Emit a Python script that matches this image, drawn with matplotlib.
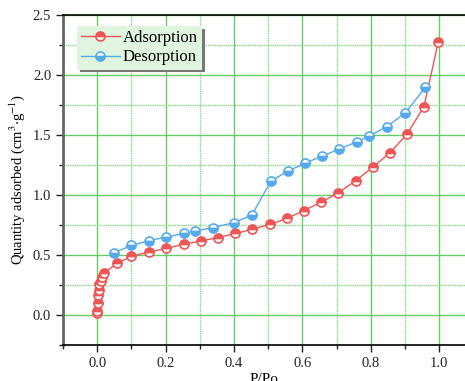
import matplotlib
matplotlib.use("Agg")
from matplotlib import pyplot as plt
from matplotlib.ticker import MultipleLocator, FormatStrFormatter

plt.rcParams["font.family"] = ["Liberation Serif", "DejaVu Serif"]
plt.rcParams["mathtext.fontset"] = "stix"

# adsorption branch
ads_x = [0.0, 0.0, 0.001, 0.002, 0.004, 0.006, 0.010, 0.015, 0.02, 0.058, 0.10,
         0.152, 0.202, 0.253, 0.303, 0.354, 0.403, 0.453, 0.504, 0.555, 0.603,
         0.655, 0.705, 0.756, 0.806, 0.856, 0.905, 0.955, 0.997]
ads_y = [0.02, 0.03, 0.10, 0.17, 0.21, 0.256, 0.286, 0.32, 0.35, 0.43, 0.49,
         0.525, 0.555, 0.59, 0.617, 0.645, 0.68, 0.713, 0.755, 0.805, 0.87,
         0.94, 1.02, 1.12, 1.233, 1.353, 1.505, 1.736, 2.278]

# desorption branch
des_x = [0.959, 0.901, 0.847, 0.794, 0.759, 0.708, 0.658, 0.607, 0.558, 0.508,
         0.452, 0.40, 0.338, 0.287, 0.253, 0.202, 0.152, 0.10, 0.05]
des_y = [1.897, 1.686, 1.57, 1.49, 1.444, 1.383, 1.325, 1.264, 1.20, 1.117,
         0.833, 0.77, 0.728, 0.70, 0.68, 0.65, 0.62, 0.58, 0.52]

red = "#ee5555"
blue = "#55aaee"

fig = plt.figure(figsize=(4.65, 3.81), dpi=100)
ax = fig.add_axes([63 / 465, 1 - 345 / 381, 402 / 465, 330 / 381])

ax.plot(ads_x, ads_y, color=red, lw=1, marker="o", ms=6.5, mew=1.2,
        mec=red, mfc=red, fillstyle="top", markerfacecoloralt="white",
        label="Adsorption", zorder=3)
ax.plot(des_x, des_y, color=blue, lw=1, marker="o", ms=6.5, mew=1.2,
        mec=blue, mfc=blue, fillstyle="bottom", markerfacecoloralt="white",
        label="Desorption", zorder=3)

ax.set_xlim(-0.1, 1.075)
ax.set_ylim(-0.25, 2.5)
ax.xaxis.set_major_locator(MultipleLocator(0.2))
ax.xaxis.set_minor_locator(MultipleLocator(0.1))
ax.yaxis.set_major_locator(MultipleLocator(0.5))
ax.yaxis.set_minor_locator(MultipleLocator(0.25))
ax.xaxis.set_major_formatter(FormatStrFormatter("%.1f"))
ax.yaxis.set_major_formatter(FormatStrFormatter("%.1f"))

ax.grid(which="major", color="#66cc66", lw=1, ls="-")
ax.grid(which="minor", color="#88d888", lw=1, ls=(0, (1, 0.6)))
ax.set_axisbelow(True)

ax.tick_params(which="both", direction="out", top=False, right=False,
               labelsize=10.5, colors="#222222")
ax.tick_params(which="major", length=5, width=1)
ax.tick_params(which="minor", length=3, width=1)

ax.spines["left"].set_color("#666666")
ax.spines["left"].set_linewidth(2)
ax.spines["bottom"].set_linewidth(1.2)
ax.spines["top"].set_linewidth(1.2)
ax.spines["right"].set_visible(False)

ax.set_xlabel("P/Po", fontsize=11, labelpad=2)
ax.set_ylabel("Quantity adsorbed (cm$^{3}$$\\cdot$g$^{-1}$)", fontsize=10.5,
              labelpad=4)

leg = ax.legend(loc="upper left", bbox_to_anchor=(0.035, 0.967),
                borderaxespad=0, fontsize=12,
                frameon=True, shadow={"color": "#777777", "alpha": 1},
                facecolor="#dff5df", edgecolor="none", framealpha=1,
                fancybox=False, handlelength=2.3, borderpad=0.25,
                labelspacing=0.2, handletextpad=0.2)
leg.get_frame().set_linewidth(0)

fig.savefig("out.png", dpi=100)
